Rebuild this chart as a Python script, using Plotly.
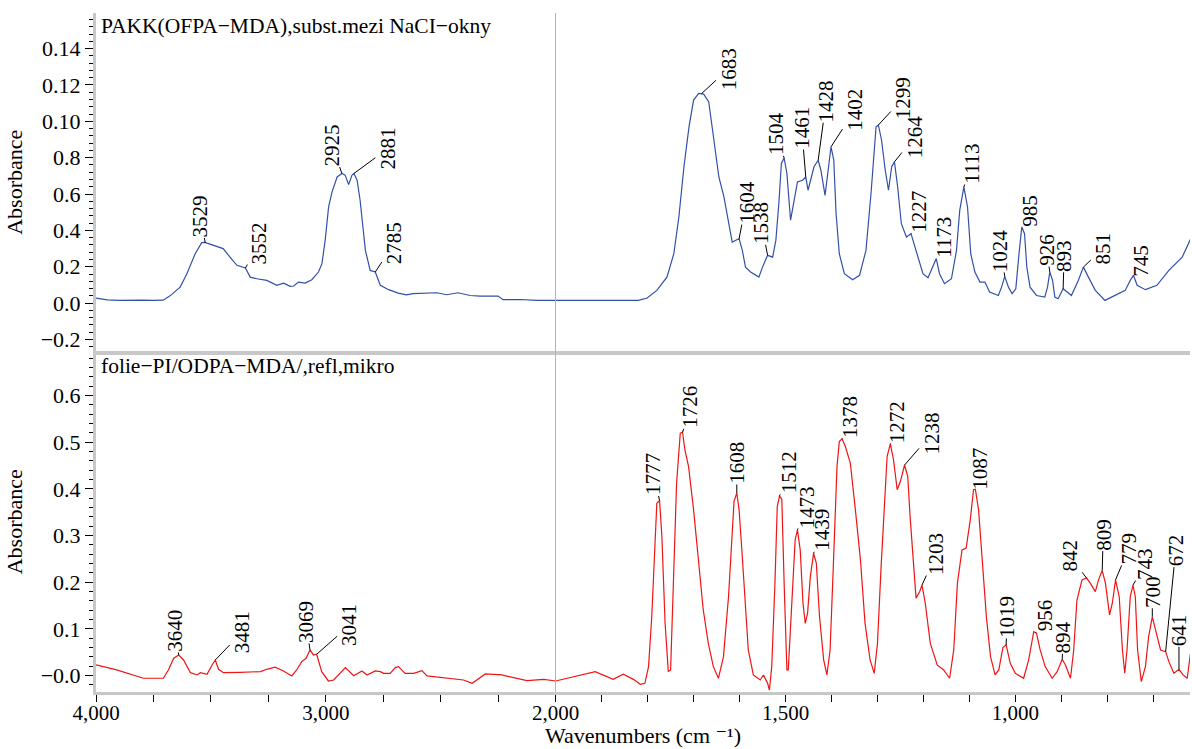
import plotly.graph_objects as go
import numpy as np

# ---------------- data ----------------
top_wn = [4000, 3950, 3900, 3850, 3800, 3750, 3708, 3678, 3634, 3605, 3569, 3540, 3525, 3517,
          3474, 3447, 3417, 3387, 3350, 3329, 3300, 3257, 3213, 3184, 3155, 3140, 3119, 3090,
          3061, 3032, 3017, 3003, 2988, 2973, 2951, 2930, 2916, 2901, 2886, 2878, 2864, 2851,
          2828, 2807, 2785, 2763, 2727, 2685, 2650, 2620, 2518, 2474, 2425, 2372, 2329, 2251,
          2229, 2155, 2082, 2000, 1900, 1820, 1801, 1780, 1758, 1743, 1732, 1721, 1710, 1700,
          1689, 1678, 1667, 1656, 1645, 1634, 1623, 1616, 1609, 1601, 1594, 1587, 1576, 1558,
          1550, 1539, 1528, 1521, 1514, 1509, 1503, 1497, 1489, 1481, 1474, 1463, 1456, 1451,
          1445, 1438, 1429, 1423, 1414, 1408, 1401, 1395, 1390, 1383, 1372, 1354, 1339, 1325,
          1314, 1303, 1298, 1291, 1283, 1276, 1269, 1263, 1256, 1248, 1237, 1227, 1216, 1201,
          1190, 1181, 1172, 1165, 1154, 1139, 1128, 1121, 1112, 1104, 1097, 1088, 1077, 1066,
          1056, 1037, 1030, 1023, 1015, 1007, 999, 992, 986, 980, 975, 968, 954, 936, 930, 925,
          919, 914, 907, 896, 878, 863, 852, 841, 826, 805, 783, 761, 750, 743, 735, 717, 692,
          666, 637, 615]
top_abs = [0.0028, 0.0018, 0.0015, 0.0017, 0.0016, 0.0015, 0.0016, 0.0040, 0.0088, 0.0160,
           0.0270, 0.0333, 0.0334, 0.0330, 0.0314, 0.0300, 0.0253, 0.0208, 0.0193, 0.0143,
           0.0134, 0.0125, 0.0098, 0.0110, 0.0092, 0.0094, 0.0116, 0.0110, 0.0129, 0.0171,
           0.0217, 0.0345, 0.0529, 0.0612, 0.0694, 0.0713, 0.0704, 0.0652, 0.0704, 0.0713,
           0.0676, 0.0566, 0.0290, 0.0180, 0.0171, 0.0098, 0.0074, 0.0055, 0.0045, 0.0052,
           0.0057, 0.0046, 0.0057, 0.0042, 0.0039, 0.0039, 0.0019, 0.0020, 0.0015, 0.0015,
           0.0015, 0.0015, 0.0028, 0.0070, 0.0143, 0.0272, 0.0474, 0.0750, 0.0970, 0.1117,
           0.1154, 0.1150, 0.1107, 0.0896, 0.0694, 0.0584, 0.0437, 0.0336, 0.0345, 0.0355,
           0.0290, 0.0198, 0.0171, 0.0143, 0.0198, 0.0263, 0.0253, 0.0345, 0.0566, 0.0768,
           0.0799, 0.0713, 0.0456, 0.0566, 0.0667, 0.0676, 0.0694, 0.0621, 0.0676, 0.0750,
           0.0786, 0.0731, 0.0593, 0.0713, 0.0860, 0.0786, 0.0493, 0.0272, 0.0162, 0.0129,
           0.0153, 0.0290, 0.0603, 0.0970, 0.0980, 0.0896, 0.0731, 0.0621, 0.0750, 0.0777,
           0.0639, 0.0437, 0.0364, 0.0382, 0.0290, 0.0162, 0.0140, 0.0198, 0.0245, 0.0162,
           0.0107, 0.0134, 0.0290, 0.0510, 0.0639, 0.0529, 0.0272, 0.0171, 0.0116, 0.0116,
           0.0061, 0.0042, 0.0088, 0.0147, 0.0088, 0.0052, 0.0079, 0.0272, 0.0419, 0.0382,
           0.0198, 0.0088, 0.0042, 0.0033, 0.0088, 0.0171, 0.0125, 0.0033, 0.0024, 0.0079,
           0.0042, 0.0125, 0.0198, 0.0143, 0.0070, 0.0015, 0.0042, 0.0070, 0.0125, 0.0153,
           0.0098, 0.0074, 0.0098, 0.0180, 0.0253, 0.0373]

bot_wn = [4000, 3910, 3794, 3707, 3685, 3662, 3640, 3619, 3589, 3560, 3546, 3517, 3495, 3481,
          3467, 3445, 3373, 3285, 3257, 3221, 3184, 3148, 3127, 3105, 3086, 3069, 3054, 3040,
          3018, 2989, 2966, 2915, 2879, 2843, 2821, 2785, 2763, 2749, 2720, 2698, 2684, 2655,
          2618, 2582, 2560, 2502, 2401, 2364, 2306, 2234, 2125, 2052, 2000, 1991, 1947, 1914,
          1875, 1853, 1831, 1816, 1806, 1798, 1791, 1784, 1780, 1774, 1769, 1762, 1755, 1750,
          1744, 1737, 1729, 1724, 1719, 1711, 1700, 1690, 1679, 1668, 1657, 1646, 1635, 1624,
          1617, 1612, 1606, 1601, 1595, 1588, 1581, 1570, 1555, 1548, 1539, 1535, 1530, 1523,
          1518, 1513, 1508, 1503, 1497, 1494, 1486, 1479, 1474, 1468, 1462, 1457, 1452, 1446,
          1439, 1433, 1426, 1417, 1410, 1403, 1396, 1388, 1383, 1377, 1370, 1359, 1348, 1337,
          1327, 1316, 1307, 1300, 1292, 1285, 1279, 1272, 1265, 1257, 1250, 1241, 1234, 1229,
          1221, 1216, 1208, 1203, 1196, 1185, 1170, 1156, 1143, 1134, 1126, 1116, 1107, 1098,
          1091, 1087, 1080, 1072, 1063, 1054, 1044, 1036, 1027, 1020, 1011, 1000, 982, 971,
          960, 954, 946, 935, 920, 909, 898, 891, 880, 873, 866, 855, 845, 837, 826, 819, 811,
          804, 795, 789, 782, 774, 767, 762, 757, 750, 744, 739, 734, 726, 717, 710, 702, 695,
          684, 673, 666, 655, 644, 635, 626, 619]
bot_abs = [0.0229, 0.0122, -0.0056, -0.0056, 0.0122, 0.0372, 0.0443, 0.0336, 0.0064, 0.0015,
           0.0064, 0.0030, 0.0229, 0.0336, 0.0136, 0.0064, 0.0072, 0.0086, 0.0136, 0.0180,
           0.0100, -0.0006, 0.0122, 0.0300, 0.0372, 0.0550, 0.0443, 0.0458, 0.0086, -0.0114,
           -0.0093, 0.0172, 0.0000, 0.0100, 0.0015, 0.0100, 0.0086, 0.0050, 0.0050, 0.0172,
           0.0193, 0.0050, 0.0050, 0.0108, -0.0006, -0.0036, -0.0093, -0.0164, 0.0036, 0.0015,
           -0.0107, -0.0079, -0.0114, -0.0093, 0.0015, 0.0086, -0.0079, 0.0030, -0.0079,
           -0.0186, -0.0164, 0.0193, 0.126, 0.298, 0.369, 0.375, 0.298, 0.112, 0.0086, 0.0122,
           0.198, 0.412, 0.519, 0.521, 0.484, 0.448, 0.355, 0.255, 0.141, 0.069, 0.0193,
           -0.0056, 0.0407, 0.169, 0.298, 0.373, 0.391, 0.355, 0.269, 0.155, 0.055, 0.0015,
           -0.0093, 0.0015, -0.0164, -0.0307, 0.0193, 0.198, 0.362, 0.385, 0.377, 0.198,
           0.0122, 0.0122, 0.162, 0.291, 0.312, 0.269, 0.155, 0.112, 0.134, 0.212, 0.262,
           0.241, 0.126, 0.0336, 0.0015, 0.055, 0.234, 0.448, 0.501, 0.507, 0.491, 0.455,
           0.355, 0.248, 0.112, 0.0336, 0.005, 0.069, 0.234, 0.376, 0.469, 0.496, 0.462,
           0.398, 0.416, 0.451, 0.426, 0.341, 0.234, 0.166, 0.180, 0.194, 0.155, 0.069,
           0.0229, 0.0122, -0.0056, 0.055, 0.198, 0.269, 0.273, 0.334, 0.398, 0.399, 0.355,
           0.255, 0.126, 0.0407, 0.0015, 0.0122, 0.060, 0.0658, 0.0265, 0.005, -0.0056,
           0.0336, 0.0943, 0.0908, 0.055, 0.0193, -0.0056, 0.0086, 0.035, 0.0229, -0.0056,
           0.055, 0.162, 0.205, 0.209, 0.198, 0.180, 0.205, 0.225, 0.198, 0.130, 0.155, 0.205,
           0.169, 0.055, 0.005, 0.055, 0.169, 0.194, 0.169, 0.055, -0.0129, 0.0193, 0.0836,
           0.126, 0.098, 0.055, 0.0514, 0.030, 0.005, 0.0136, 0.0015, -0.0056, 0.048]

# peak labels: text and the wavenumber where the leader line points
top_labels = ["3529", "3552", "2925", "2881", "2785", "1683", "1604", "1538", "1504", "1461",
              "1428", "1402", "1299", "1264", "1227", "1173", "1113", "1024", "985", "926",
              "893", "851", "745"]
top_label_wn = [3525, 3350, 2930, 2878, 2785, 1683, 1601, 1539, 1503, 1456,
                1429, 1401, 1298, 1263, 1227, 1172, 1112, 1023, 986, 925,
                896, 852, 743]
bot_labels = ["3640", "3481", "3069", "3041", "1777", "1726", "1608", "1512", "1473", "1439",
              "1378", "1272", "1238", "1203", "1087", "1019", "956", "894", "842", "809",
              "779", "743", "700", "672", "641"]
bot_label_wn = [3640, 3481, 3069, 3040, 1774, 1724, 1606, 1513, 1474, 1439,
                1377, 1272, 1241, 1203, 1087, 1020, 956, 898, 845, 811,
                782, 744, 702, 673, 644]

# label placement (pixel offsets of the label centre from its peak)
top_dx = [-5, 14, -10, 34, 19, 27, 7, -6, -8, -4, 8, 24, 25, 20, 8, 7, 8, -4, 8, -3, 1, 20, 8]
top_dy = [-26, -25, -28, -25, -29, -25, -36, -32, -24, -49, -59, -37, -27, -25, -22, -21, -23,
          -26, -16, -22, -33, -19, -15]
bot_dx = [-4, 27, -4, 33, -6, 8, 0, 9, 9, 9, 8, 7, 27, 14, 5, 1, 9, 1, -17, 1, 13, 12, 0, 10, 0]
bot_dy = [-24, -28, -28, -29, -26, -25, -30, -23, -23, -23, -22, -22, -31, -31, -21, -28, -17,
          -22, -22, -36, -31, -21, -25, -101, -39]

top_title = "PAKK(OFPA−MDA),subst.mezi NaCI−okny"
bot_title = "folie−PI/ODPA−MDA/,refl,mikro"
x_title = "Wavenumbers (cm ⁻¹)"

top_ticks = [0.14, 0.12, 0.10, 0.08, 0.06, 0.04, 0.02, 0.0, -0.02]
top_ticktext = ["0.14", "0.12", "0.10", "0.8", "0.6", "0.4", "0.2", "0.0", "−0.2"]
bot_ticks = [0.6, 0.5, 0.4, 0.3, 0.2, 0.1, 0.0]
bot_ticktext = ["0.6", "0.5", "0.4", "0.3", "0.2", "0.1", "−0.0"]

# ---------------- figure ----------------
FONT = "Liberation Serif, Times New Roman, Tinos, DejaVu Serif, serif"
BLUE = "#3250a8"
RED = "#f01414"
SPLIT = 0.4202   # domain split at 2000 cm-1 (scale change)
ROW = 0.5015

fig = go.Figure()
for xa, ya in [("x", "y"), ("x2", "y2")]:
    fig.add_trace(go.Scatter(x=top_wn, y=top_abs, xaxis=xa, yaxis=ya, mode="lines",
                             line=dict(color=BLUE, width=1.2), showlegend=False,
                             hoverinfo="skip"))
for xa, ya in [("x3", "y3"), ("x4", "y4")]:
    fig.add_trace(go.Scatter(x=bot_wn, y=bot_abs, xaxis=xa, yaxis=ya, mode="lines",
                             line=dict(color=RED, width=1.2), showlegend=False,
                             hoverinfo="skip"))

tickfont = dict(family=FONT, size=22, color="black")
xtickfont = dict(family=FONT, size=21, color="black")
grey = "#c8c8c8"

xbase = dict(showgrid=False, zeroline=False, showline=True, linecolor=grey, linewidth=4,
             automargin=False)
xbot = dict(showgrid=False, zeroline=False, showline=True, linecolor=grey, linewidth=3,
            ticks="outside", ticklen=7, tickwidth=1, tickcolor="black", tickfont=xtickfont,
            automargin=False)

ybase = dict(showgrid=False, zeroline=False, showline=True, linecolor=grey, linewidth=3,
             ticks="outside", ticklen=8, tickwidth=1, tickcolor="black", tickfont=tickfont,
             tickmode="array", automargin=False,
             title=dict(text="Absorbance", font=dict(family=FONT, size=22, color="black"),
                        standoff=12))
yhidden = dict(showgrid=False, zeroline=False, showticklabels=False, ticks="",
               showline=True, linecolor="#b4b4b4", linewidth=1, automargin=False)

fig.update_layout(
    width=1192, height=749,
    margin=dict(l=96, r=2, t=13, b=57, autoexpand=False),
    paper_bgcolor="white", plot_bgcolor="white",
    font=dict(family=FONT, size=21, color="black"),
    xaxis=dict(domain=[0, SPLIT], range=[4000, 2000], anchor="y",
               showticklabels=False, ticks="", **xbase),
    xaxis2=dict(domain=[SPLIT, 1], range=[2000, 620], anchor="y2",
                showticklabels=False, ticks="", **xbase),
    xaxis3=dict(domain=[0, SPLIT], range=[4000, 2000], anchor="y3",
                tickmode="array", tickvals=[4000, 3000, 2000],
                ticktext=["4,000", "3,000", "2,000"],
                minor=dict(tickmode="linear", tick0=2000, dtick=250, ticks="outside",
                           ticklen=7, tickcolor="black", tickwidth=1),
                **xbot),
    xaxis4=dict(domain=[SPLIT, 1], range=[2000, 620], anchor="y4",
                tickmode="array", tickvals=[1500, 1000], ticktext=["1,500", "1,000"],
                minor=dict(tickmode="linear", tick0=1000, dtick=100, ticks="outside",
                           ticklen=7, tickcolor="black", tickwidth=1),
                **xbot),
    yaxis=dict(domain=[ROW, 1], range=[-0.0266, 0.1596], anchor="x",
               tickvals=top_ticks, ticktext=top_ticktext,
               minor=dict(tickmode="linear", tick0=0, dtick=0.004, ticks="outside",
                          ticklen=4, tickcolor="black", tickwidth=1),
               **ybase),
    yaxis2=dict(domain=[ROW, 1], matches="y", anchor="x2", **yhidden),
    yaxis3=dict(domain=[0, ROW], range=[-0.035, 0.694], anchor="x3",
                tickvals=bot_ticks, ticktext=bot_ticktext,
                minor=dict(tickmode="linear", tick0=0, dtick=0.02, ticks="outside",
                           ticklen=4, tickcolor="black", tickwidth=1),
                **ybase),
    yaxis4=dict(domain=[0, ROW], matches="y3", anchor="x4", **yhidden),
)

# pull the bottom tick labels slightly towards the axis (if supported)
try:
    fig.layout.xaxis3.ticklabelstandoff = -7
    fig.layout.xaxis4.ticklabelstandoff = -7
except (ValueError, AttributeError):
    pass

annots = []
labfont = dict(family=FONT, size=21, color="black")


def add_labels(wn, ab, labels, pos, dxs, dys, left_ref, right_ref):
    wn_r = np.asarray(wn, dtype=float)[::-1]
    ab_r = np.asarray(ab, dtype=float)[::-1]
    for txt, p, dx, dy in zip(labels, pos, dxs, dys):
        yv = float(np.interp(p, wn_r, ab_r))
        xr, yr = left_ref if p >= 2000 else right_ref
        annots.append(dict(x=p, y=yv, xref=xr, yref=yr, text=txt, textangle=-90,
                           showarrow=True, arrowhead=0, arrowwidth=1, arrowcolor="black",
                           ax=dx, ay=dy, standoff=0, font=labfont, borderpad=0))


add_labels(top_wn, top_abs, top_labels, top_label_wn, top_dx, top_dy, ("x", "y"), ("x2", "y2"))
add_labels(bot_wn, bot_abs, bot_labels, bot_label_wn, bot_dx, bot_dy, ("x3", "y3"), ("x4", "y4"))

annots.append(dict(text=top_title, xref="x domain", yref="y domain", x=0, y=1,
                   xanchor="left", yanchor="top", showarrow=False, xshift=3, yshift=1,
                   font=dict(family=FONT, size=21.5, color="black")))
annots.append(dict(text=bot_title, xref="x3 domain", yref="y3 domain", x=0, y=1,
                   xanchor="left", yanchor="top", showarrow=False, xshift=3, yshift=-1,
                   font=dict(family=FONT, size=21.5, color="black")))
annots.append(dict(text=x_title, xref="paper", yref="paper",
                   x=0.5, y=0, xanchor="center", yanchor="bottom", showarrow=False,
                   yshift=-58, font=dict(family=FONT, size=22, color="black")))
fig.update_layout(annotations=annots)

fig.write_html("out.html", config={"displayModeBar": False},
               post_script="document.body.style.margin='0';"
                           "document.body.style.overflow='hidden';")
